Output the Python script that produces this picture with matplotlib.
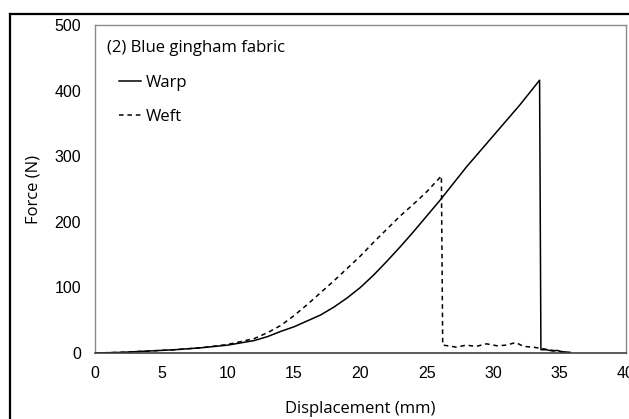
import matplotlib
matplotlib.use('Agg')
import matplotlib.pyplot as plt
from matplotlib.lines import Line2D

# Load curves (displacement in mm, force in N)
warp_x = [0, 2, 4, 6, 8, 10, 12, 13, 14, 15, 16, 17, 18, 19, 20, 21, 22, 23, 24, 25, 26,
          28, 30, 32, 33.5,
          33.6, 34.0, 34.5, 34.8, 35.2, 35.8]
warp_y = [0, 1, 3, 5, 8, 12, 19, 25, 33, 40, 49, 58, 70, 84, 100, 119, 140, 162, 185, 209, 233,
          284, 331, 378, 416,
          5, 5, 3, 4, 2, 1]

weft_x = [0, 2, 4, 6, 8, 10, 12, 13, 14, 15, 16, 17, 18, 19, 20, 21, 22, 23, 24, 25, 26.1,
          26.2, 26.6, 27.2, 28.0, 28.7, 29.5, 30.3, 31.0, 31.7, 32.3, 33.0, 33.6, 34.2, 34.8, 35.3]
weft_y = [0, 1, 3, 5, 8, 13, 22, 31, 42, 57, 74, 92, 110, 129, 148, 169, 189, 209, 227, 246, 270,
          12, 11, 9, 12, 10, 14, 11, 12, 16, 10, 9, 7, 5, 3, 1]

xticks = list(range(0, 41, 5))
yticks = list(range(0, 501, 100))

label_font = 'Open Sans'
tick_font = 'Liberation Sans'

fig = plt.figure(figsize=(6.29, 4.19), dpi=100)
ax = fig.add_axes([0.151, 0.1575, 0.844, 0.7825])

ax.plot(warp_x, warp_y, color='black', linewidth=1.1, label='Warp')
ax.plot(weft_x, weft_y, color='black', linewidth=1.1, linestyle=(0, (3, 2.5)), label='Weft')

ax.set_xlim(0, 40)
ax.set_ylim(0, 500)
ax.set_xticks(xticks)
ax.set_yticks(yticks)
ax.tick_params(axis='x', length=0, labelsize=11.5, pad=9)
ax.tick_params(axis='y', length=0, labelsize=11.5, pad=10)
for lab in ax.get_xticklabels() + ax.get_yticklabels():
    lab.set_fontfamily(tick_font)

for side in ['top', 'right', 'left']:
    ax.spines[side].set_color('#8a8a8a')
    ax.spines[side].set_linewidth(1.0)
ax.spines['bottom'].set_color('#404040')
ax.spines['bottom'].set_linewidth(1.2)

ax.set_xlabel('Displacement (mm)', fontfamily=label_font, fontsize=12, labelpad=15)
ax.set_ylabel('Force (N)', fontfamily=label_font, fontsize=12, labelpad=9)

ax.text(0.023, 0.93, '(2) Blue gingham fabric', transform=ax.transAxes,
        fontfamily=label_font, fontsize=12, va='center', ha='left')

ax.legend(loc='upper left', bbox_to_anchor=(0.045, 0.847), frameon=False,
          prop={'family': label_font, 'size': 12}, handlelength=1.3,
          handletextpad=0.3, labelspacing=1.05, borderaxespad=0, borderpad=0)

# outer frame of the original figure (top and left edges only)
fig.add_artist(Line2D([10 / 629, 1], [1 - 14 / 419, 1 - 14 / 419],
                      transform=fig.transFigure, color='black', linewidth=1.6))
fig.add_artist(Line2D([10 / 629, 10 / 629], [0, 1 - 14 / 419],
                      transform=fig.transFigure, color='black', linewidth=1.6))

fig.savefig('out.png', dpi=100)
